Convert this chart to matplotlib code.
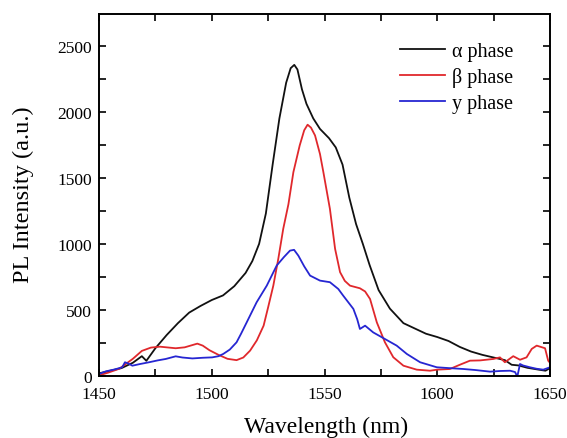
import matplotlib
matplotlib.use("Agg")
import matplotlib.pyplot as plt
from matplotlib.ticker import MultipleLocator

plt.rcParams['font.family'] = ['Liberation Serif', 'DejaVu Serif']

# PL spectra (wavelength in nm, intensity in a.u.)
alpha_wl = [1450, 1455, 1460, 1465, 1469, 1471, 1475, 1480, 1485, 1490, 1495, 1500,
            1505, 1510, 1515, 1518, 1521, 1524, 1527, 1530, 1533, 1535, 1536.6, 1538,
            1540, 1542, 1545, 1548, 1552, 1555, 1558, 1561, 1564, 1567, 1570, 1574,
            1579, 1585, 1590, 1595, 1600, 1605, 1610, 1615, 1620, 1625, 1630, 1633,
            1636, 1640, 1645, 1648, 1650]
alpha_int = [20, 40, 60, 100, 150, 115, 210, 310, 400, 480, 530, 575,
             610, 680, 780, 870, 1000, 1230, 1600, 1950, 2220, 2330, 2355, 2320,
             2170, 2060, 1950, 1870, 1800, 1730, 1600, 1350, 1150, 1000, 840, 650,
             510, 400, 360, 320, 295, 265, 220, 185, 160, 140, 120, 85,
             80, 62, 48, 40, 60]

beta_wl = [1450, 1454, 1459, 1465, 1469, 1473, 1477, 1484, 1488, 1493.6, 1496, 1499,
           1503, 1507, 1511, 1514, 1517, 1520, 1523, 1525, 1527.3, 1529.5, 1531.7, 1534,
           1536.2, 1539, 1541, 1542.5, 1544, 1545.8, 1548, 1549.5, 1552.4, 1554.7, 1556.9,
           1559, 1561.3, 1565.7, 1568, 1570.2, 1573.2, 1576.8, 1580.5, 1585, 1590.9,
           1596.8, 1600, 1605.6, 1610, 1614.5, 1619, 1624.9, 1627.8, 1630, 1633.7,
           1636.7, 1639.6, 1641.9, 1644.1, 1647.8, 1649.2, 1650]
beta_int = [5, 25, 55, 130, 190, 215, 222, 210, 217, 245, 230, 195,
            160, 130, 120, 140, 192, 270, 381, 520, 684, 886, 1114, 1300,
            1543, 1745, 1860, 1902, 1880, 1821, 1680, 1543, 1265, 962, 786,
            720, 684, 664, 640, 583, 406, 255, 142, 78, 48,
            40, 48, 53, 85, 116, 118, 129, 141, 104, 150,
            123, 141, 205, 230, 210, 116, 100]

gamma_wl = [1450, 1453, 1457, 1460.3, 1461.5, 1463, 1464.8, 1468, 1472.2, 1476, 1479.6,
            1484, 1487, 1491.4, 1496, 1500.2, 1503, 1505.1, 1508, 1511, 1513, 1515.5,
            1519.9, 1524.4, 1528.8, 1532, 1534.7, 1536.5, 1538.4, 1541, 1543.6, 1548,
            1552.4, 1556.1, 1558.3, 1562.8, 1564.5, 1565.7, 1568, 1571.6, 1576.8, 1582,
            1586.5, 1592.4, 1599.8, 1605, 1611.6, 1617, 1623.4, 1628, 1632.3, 1634.5,
            1635.5, 1636.7, 1638, 1641.1, 1644, 1647, 1650]
gamma_int = [15, 35, 50, 66, 104, 95, 78, 90, 104, 118, 129,
             149, 140, 133, 138, 141, 150, 167, 200, 255, 320, 406,
             558, 684, 836, 900, 949, 955, 911, 830, 760, 722,
             710, 659, 608, 508, 430, 356, 381, 330, 280, 230,
             167, 104, 66, 60, 53, 45, 33, 38, 40, 30,
             -5, 91, 80, 66, 55, 48, 66]

series = [
    (alpha_wl, alpha_int, '#111111', 'α phase'),
    (beta_wl, beta_int, '#e0282c', 'β phase'),
    (gamma_wl, gamma_int, '#2626d2', 'y phase'),
]

W, H = 567, 439
fig = plt.figure(figsize=(W / 100, H / 100), dpi=100)
ax = fig.add_axes([99 / W, 1 - 377 / H, 451 / W, 362 / H])

for wl, inten, color, label in series:
    ax.plot(wl, inten, color=color, lw=1.3, label=label)

ax.set_xlim(1450, 1650)
ax.set_ylim(0, 2740)
ax.xaxis.set_major_locator(MultipleLocator(50))
ax.xaxis.set_minor_locator(MultipleLocator(25))
ax.yaxis.set_major_locator(MultipleLocator(500))
ax.yaxis.set_minor_locator(MultipleLocator(250))
ax.tick_params(which='both', direction='in', top=True, right=True,
               length=5, width=1.2, labelsize=12.5)
ax.tick_params(axis='x', pad=7)
ax.tick_params(axis='y', pad=5)
for sp in ax.spines.values():
    sp.set_linewidth(1.4)

fig.text(326 / W, 1 - 433 / H, 'Wavelength (nm)', fontsize=17,
         ha='center', va='baseline')
fig.text(23 / W, 1 - 195 / H, 'PL Intensity (a.u.)', fontsize=17.5,
         ha='center', va='center', rotation=90)

ax.legend(loc='upper left', frameon=False, fontsize=14.5, handlelength=2.25,
          handletextpad=0.33, labelspacing=0.32, borderpad=0, borderaxespad=0,
          bbox_to_anchor=((400 - 99) / 451, 1 - (42.5 - 15) / 362))

fig.savefig('out.png', dpi=100)
